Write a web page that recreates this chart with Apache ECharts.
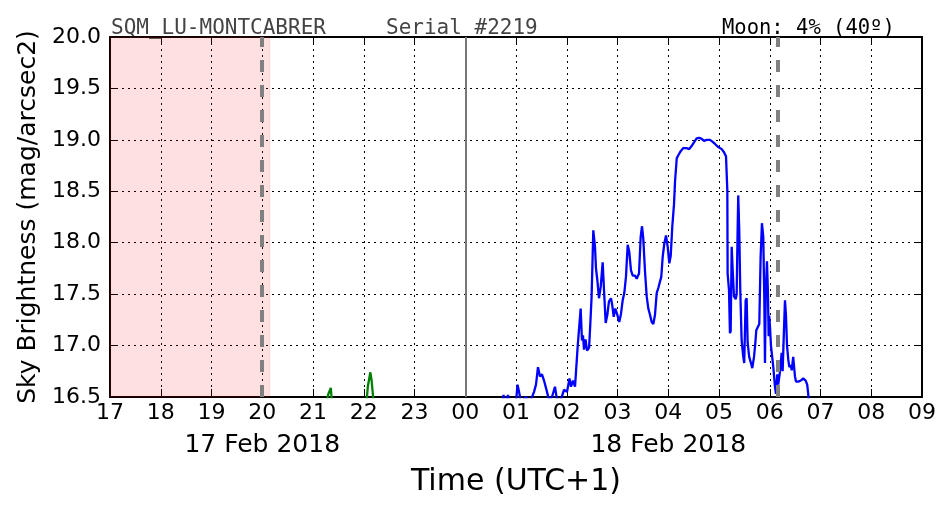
<!DOCTYPE html>
<html>
<head>
<meta charset="utf-8">
<script src="https://cdn.jsdelivr.net/npm/echarts@6/dist/echarts.min.js"></script>
<style>html,body{margin:0;padding:0;background:#fff}#c{width:952px;height:512px}</style>
</head>
<body>
<div id="c"></div>
<script>
// ---- data (hours since 00:00 of 17 Feb 2018; >24 means 18 Feb) ----
const xTickHours = [17,18,19,20,21,22,23,24,25,26,27,28,29,30,31,32,33];
const yTicks = [16.5,17.0,17.5,18.0,18.5,19.0,19.5,20.0];
const dateLabels = ['17 Feb 2018', '18 Feb 2018'];
const dateLabelHours = [20, 28];
const twilightStart = 17, twilightEnd = 20.15;
const dashedLineHours = [19.99, 30.165];
const midnightHour = 24;
const titleLeft = 'SQM_LU-MONTCABRER';
const titleMid = 'Serial #2219';
const titleRight = 'Moon: 4% (40º)';

const greenHours = [21.25,21.27,21.31,21.33,21.35,21.37,21.40, 22.03,22.058,22.08,22.13,22.155,22.19,22.21];
const greenValues = [16.3,16.47,16.54,16.56,16.59,16.47,16.3, 16.3,16.47,16.6,16.74,16.66,16.47,16.3];

const blueHours = [24.68,24.724,24.754,24.783,24.842,24.882,25.0,25.03,25.06,25.10,25.197,25.276,25.355,25.394,25.433,25.473,25.512,25.552,25.611,25.65,25.709,25.768,25.808,25.887,25.946,26.005,26.054,26.084,26.123,26.163,26.215,26.274,26.3,26.32,26.34,26.37,26.40,26.44,26.458,26.49,26.523,26.557,26.576,26.602,26.635,26.669,26.708,26.734,26.767,26.80,26.832,26.872,26.897,26.925,26.957,26.996,27.035,27.069,27.102,27.134,27.167,27.201,27.232,27.266,27.30,27.345,27.378,27.424,27.457,27.483,27.508,27.542,27.575,27.607,27.64,27.674,27.706,27.739,27.772,27.804,27.837,27.863,27.89,27.922,27.956,27.989,28.021,28.048,28.08,28.113,28.133,28.167,28.198,28.245,28.297,28.36,28.413,28.46,28.513,28.559,28.61,28.659,28.704,28.757,28.822,28.876,28.921,28.986,29.053,29.098,29.138,29.164,29.17,29.197,29.216,29.23,29.25,29.27,29.295,29.329,29.348,29.367,29.379,29.399,29.419,29.446,29.478,29.497,29.525,29.545,29.564,29.595,29.63,29.656,29.69,29.715,29.735,29.774,29.794,29.82,29.846,29.872,29.892,29.906,29.92,29.945,29.965,29.978,29.99,30.004,30.024,30.05,30.07,30.103,30.123,30.148,30.168,30.202,30.235,30.254,30.28,30.30,30.32,30.34,30.366,30.386,30.413,30.433,30.462,30.497,30.517,30.562,30.61,30.66,30.706,30.738,30.758,30.778];
const blueValues = [16.3,16.4,16.52,16.4,16.52,16.4,16.45,16.62,16.55,16.45,16.5,16.45,16.55,16.62,16.79,16.7,16.72,16.66,16.55,16.47,16.5,16.6,16.47,16.48,16.57,16.55,16.68,16.6,16.66,16.6,16.99,17.36,17.05,17.1,16.96,17.06,16.95,16.98,17.15,17.48,18.12,17.96,17.75,17.64,17.46,17.57,17.81,17.54,17.22,17.3,17.43,17.46,17.39,17.28,17.36,17.3,17.23,17.31,17.44,17.51,17.67,17.98,17.91,17.73,17.68,17.68,17.65,17.7,18.06,18.16,18.04,17.72,17.48,17.36,17.30,17.23,17.21,17.30,17.51,17.56,17.56,17.67,17.86,17.99,18.07,17.96,17.80,17.87,18.16,18.37,18.59,18.82,18.85,18.89,18.92,18.92,18.91,18.94,18.98,19.015,19.02,19.01,18.99,19.0,19.0,18.98,18.96,18.93,18.91,18.88,18.84,18.51,17.70,17.54,17.12,17.14,17.96,17.73,17.48,17.45,17.50,18.12,18.46,18.12,17.54,17.05,16.89,16.83,17.44,17.46,17.03,16.89,16.83,16.78,16.89,17.02,17.15,17.15,17.21,17.86,18.19,18.06,17.48,16.83,17.48,17.82,17.50,17.09,17.29,17.19,17.0,17.0,16.79,16.6,16.53,16.72,16.62,16.75,16.93,16.75,17.15,17.44,17.29,17.0,16.86,16.79,16.81,16.76,16.89,16.70,16.65,16.65,16.66,16.68,16.66,16.62,16.53,16.40];

// ---- chart ----
const FONT = 'DejaVu Sans';
const MONO = 'DejaVu Sans Mono';
const pad2 = v => String(Math.round(v) % 24).padStart(2, '0');
const chart = echarts.init(document.getElementById('c'), null, {renderer: 'canvas'});
const xMin = xTickHours[0], xMax = xTickHours[xTickHours.length - 1];
const yMin = yTicks[0], yMax = yTicks[yTicks.length - 1];
const frame = {show: true, lineStyle: {color: '#000', width: 2}};
const tickIn = {show: true, inside: true, length: 8, lineStyle: {color: '#000', width: 1}};
const dotted = {show: true, lineStyle: {color: '#000', width: 1, type: [2, 4]}};

chart.setOption({
  animation: false,
  backgroundColor: '#fff',
  title: [
    {text: titleLeft, left: 106, top: 13, textStyle: {fontFamily: MONO, fontSize: 21, fontWeight: 'normal', color: '#444'}},
    {text: titleMid, left: 381, top: 13, textStyle: {fontFamily: MONO, fontSize: 21, fontWeight: 'normal', color: '#444'}},
    {text: titleRight, left: 717, top: 13, textStyle: {fontFamily: MONO, fontSize: 20.5, fontWeight: 'normal', color: '#000'}}
  ],
  grid: {left: 110, right: 30, top: 37, bottom: 115, containLabel: false},
  xAxis: [
    {type: 'value', position: 'bottom', min: xMin, max: xMax, interval: 1,
     axisLine: frame, axisTick: tickIn, splitLine: dotted,
     axisLabel: {show: true, margin: 5, fontFamily: FONT, fontSize: 22, color: '#000', formatter: pad2, showMinLabel: true, showMaxLabel: true},
     name: 'Time (UTC+1)', nameLocation: 'middle', nameGap: 70,
     nameTextStyle: {fontFamily: FONT, fontSize: 30, color: '#000'}},
    {type: 'value', position: 'top', min: xMin, max: xMax, interval: 1,
     axisLine: frame, axisTick: tickIn, splitLine: {show: false}, axisLabel: {show: false}},
    {type: 'value', position: 'bottom', offset: 31, min: xMin, max: xMax,
     axisLine: {show: false}, axisTick: {show: false}, splitLine: {show: false},
     axisLabel: {show: true, margin: 5, customValues: dateLabelHours, fontFamily: FONT, fontSize: 25, color: '#000',
       formatter: v => { const i = dateLabelHours.indexOf(Math.round(v)); return i >= 0 ? dateLabels[i] : ''; }}}
  ],
  yAxis: [
    {type: 'value', position: 'left', min: yMin, max: yMax, interval: 0.5,
     axisLine: frame, axisTick: tickIn, splitLine: dotted,
     axisLabel: {margin: 9, fontFamily: FONT, fontSize: 22, color: '#000', formatter: v => v.toFixed(1), showMinLabel: true, showMaxLabel: true},
     name: 'Sky Brightness (mag/arcsec2)', nameLocation: 'middle', nameGap: 69, nameRotate: 90,
     nameTextStyle: {fontFamily: FONT, fontSize: 25, color: '#000'}},
    {type: 'value', position: 'right', min: yMin, max: yMax, interval: 0.5,
     axisLine: frame, axisTick: tickIn, splitLine: {show: false}, axisLabel: {show: false}}
  ],
  series: [
    {type: 'line', xAxisIndex: 0, yAxisIndex: 0, data: [], z: 1, silent: true,
     markArea: {silent: true, itemStyle: {color: 'rgba(255,0,12,0.12)', borderColor: 'rgba(255,0,0,0.10)', borderWidth: 1},
       data: [[{xAxis: twilightStart}, {xAxis: twilightEnd}]]},
     markLine: {silent: true, symbol: 'none', label: {show: false},
       data: [
         {xAxis: dashedLineHours[0], lineStyle: {color: '#808080', width: 4, type: [12, 13]}},
         {xAxis: dashedLineHours[1], lineStyle: {color: '#808080', width: 4, type: [12, 13]}},
         {xAxis: midnightHour, lineStyle: {color: '#777', width: 2, type: 'solid'}}
       ]}},
    {type: 'line', xAxisIndex: 0, yAxisIndex: 0, showSymbol: false, clip: true, z: 3,
     lineStyle: {color: '#008000', width: 2.3}, itemStyle: {color: '#008000'},
     data: greenHours.map((h, i) => [h, greenValues[i]])},
    {type: 'line', xAxisIndex: 0, yAxisIndex: 0, showSymbol: false, clip: true, z: 3,
     lineStyle: {color: '#0000ff', width: 2.3}, itemStyle: {color: '#0000ff'},
     data: blueHours.map((h, i) => [h, blueValues[i]])}
  ]
});
</script>
</body>
</html>
